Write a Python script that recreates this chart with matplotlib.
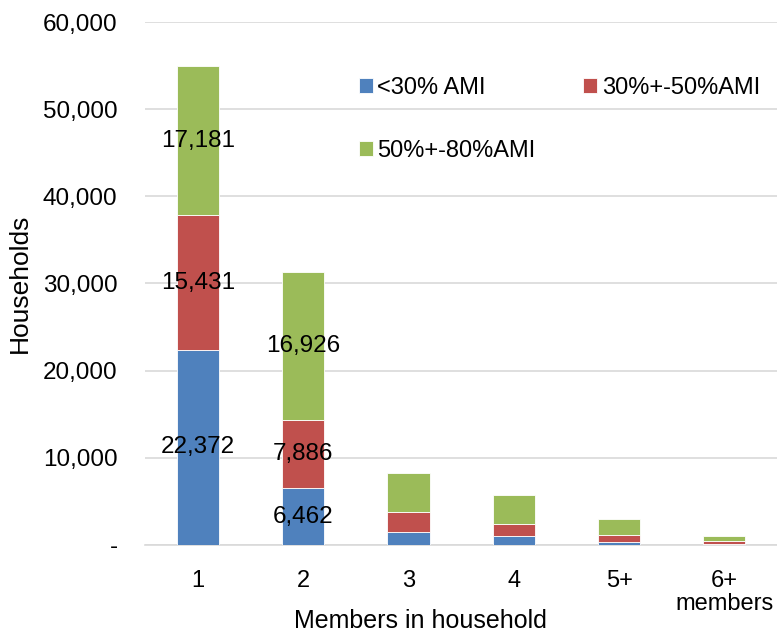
import matplotlib.pyplot as plt
from matplotlib.ticker import FuncFormatter

plt.rcParams['font.family'] = ['Liberation Sans', 'DejaVu Sans']

categories = ['1', '2', '3', '4', '5+', '6+\nmembers']
below_30 = [22372, 6462, 1520, 990, 300, 80]
from_30_to_50 = [15431, 7886, 2220, 1370, 800, 330]
from_50_to_80 = [17181, 16926, 4550, 3410, 1880, 620]
series_names = ['<30% AMI', '30%+-50%AMI', '50%+-80%AMI']
colors = ['#4F81BD', '#C0504D', '#9BBB59']
labelled_bars = 2  # only the first two bars carry value labels
fs = 17.5

fig = plt.figure(figsize=(7.77, 6.32), dpi=100)
ax = fig.add_axes([0.187, 0.138, 0.813, 0.827])

x = range(len(categories))
bottom = [0] * len(categories)
bars = []
for vals, name, c in zip([below_30, from_30_to_50, from_50_to_80], series_names, colors):
    b = ax.bar(x, vals, width=0.4, bottom=bottom, color=c, label=name,
               edgecolor='white', linewidth=0.6, zorder=3)
    for i in range(labelled_bars):
        ax.text(i, bottom[i] + vals[i] / 2, f'{vals[i]:,}', ha='center', va='center',
                fontsize=fs, color='black', zorder=4)
    bars.append(b)
    bottom = [p + v for p, v in zip(bottom, vals)]

ax.set_xlim(-0.5, len(categories) - 0.5)
ax.set_ylim(0, 60000)
ax.set_yticks(range(0, 60001, 10000))
ax.yaxis.set_major_formatter(FuncFormatter(lambda v, p: '-' if v == 0 else f'{int(v):,}'))
ax.grid(axis='y', color='#d9d9d9', linewidth=1.2, zorder=0)
for s in ['top', 'right', 'left']:
    ax.spines[s].set_visible(False)
ax.spines['bottom'].set_color('#d9d9d9')
ax.spines['bottom'].set_linewidth(1.2)
ax.tick_params(axis='y', length=0, labelsize=fs, pad=20)
ax.set_xticks(list(x))
ax.set_xticklabels(categories, linespacing=1.1)
ax.tick_params(axis='x', length=0, labelsize=17, pad=18)

ax.set_ylabel('Households', fontsize=19, labelpad=8)
ax.set_xlabel('Members in household', fontsize=18, va='top')
ax.xaxis.set_label_coords(0.435, -0.122)

# row-wise order in a 2-column legend
h = [bars[0], bars[2], bars[1]]
l = [series_names[0], series_names[2], series_names[1]]
ax.legend(h, l, ncol=2, frameon=False, fontsize=17, loc='upper left',
          bbox_to_anchor=(0.304, 0.936), handlelength=0.6, handleheight=0.6,
          handletextpad=0.2, labelspacing=1.75, columnspacing=2.0)

plt.savefig('out.png', dpi=100)
